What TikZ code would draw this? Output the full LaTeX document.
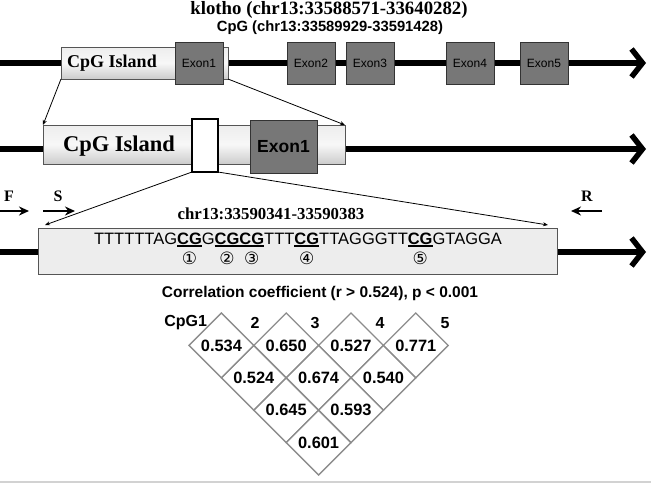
\documentclass[tikz,border=0pt]{standalone}
\usepackage{fontspec}
\setmainfont{Liberation Serif}
\setsansfont{Liberation Sans}
\newfontfamily\circfont{DejaVu Sans}
\usetikzlibrary{arrows.meta,shapes.geometric}
\definecolor{exongray}{HTML}{777777}
\definecolor{gridgray}{HTML}{8C8C8C}
\definecolor{boxline}{HTML}{555555}
\newcommand{\fsz}[1]{\fontsize{#1}{#1}\selectfont}
\newcommand{\cgm}[2]{\setbox0=\hbox{\textbf{#1}}%
  \rlap{\rule[-2.6pt]{\wd0}{1.3pt}}%
  \rlap{\raisebox{-20pt}[0pt][0pt]{\makebox[\wd0]{\circfont\fsz{17}#2}}}\box0}
\begin{document}
\begin{tikzpicture}[x=1pt,y=-1pt,
  every node/.style={inner sep=0pt,outer sep=0pt},
  backbone/.style={line width=5.5pt,-{Straight Barb[length=11pt,width=28pt,line width=5.5pt]}},
  zoomline/.style={line width=0.8pt,-{Stealth[length=5pt,width=4pt]}},
  primer/.style={line width=2.6pt,-{Stealth[length=10pt,width=9pt]}},
  cpgbox/.style={draw=boxline,line width=0.8pt,top color=gray!14,bottom color=gray!40,middle color=gray!6},
  exonbox/.style={draw=black!80,fill=exongray,line width=1pt},
  seqboxstyle/.style={draw=boxline,line width=1pt,fill=gray!14},
  winbox/.style={draw=black,line width=1.2pt,fill=white},
  cell/.style={diamond,draw=gridgray,line width=1.3pt,minimum width=64.8pt,minimum height=64.8pt,aspect=1,
     font=\sffamily\bfseries\fsz{16.4}},
  collbl/.style={font=\sffamily\bfseries\fsz{16}},
  primerlbl/.style={font=\rmfamily\bfseries\fsz{16}}
]
\useasboundingbox (0,0) rectangle (651,483);

% titles
\node[font=\rmfamily\bfseries\fsz{18.8}] (title) at (329,10) {klotho (chr13:33588571-33640282)};
\node[font=\sffamily\bfseries\fsz{14.8}] (subtitle) at (330,28) {CpG (chr13:33589929-33591428)};

% row 1
\coordinate (r1s) at (0,63);
\coordinate (r1e) at (646,63);
\draw[backbone] (r1s) -- (r1e);
\node[cpgbox,anchor=north west,minimum width=167pt,minimum height=32pt] (cpgA) at (61,47) {};
\node[font=\rmfamily\bfseries\fsz{18}] (cpgAtxt) at (112,63) {CpG Island};
\node[exonbox,anchor=north west,minimum width=48pt,minimum height=42pt] (ex1) at (175,42) {};
\node[exonbox,anchor=north west,minimum width=48pt,minimum height=42pt] (ex2) at (287,42) {};
\node[exonbox,anchor=north west,minimum width=48pt,minimum height=42pt] (ex3) at (346,42) {};
\node[exonbox,anchor=north west,minimum width=48pt,minimum height=42pt] (ex4) at (446,42) {};
\node[exonbox,anchor=north west,minimum width=48pt,minimum height=42pt] (ex5) at (520,42) {};
\foreach \e/\t in {ex1/Exon1,ex2/Exon2,ex3/Exon3,ex4/Exon4,ex5/Exon5}
  \node[font=\sffamily\fsz{12}] (\e txt) at (\e.center) {\t};

% row 2
\coordinate (r2s) at (0,149);
\coordinate (r2e) at (646,149);
\draw[backbone] (r2s) -- (r2e);
\node[cpgbox,anchor=north west,minimum width=302pt,minimum height=39pt] (cpgB) at (43,125) {};
\node[font=\rmfamily\bfseries\fsz{22.5}] (cpgBtxt) at (119,146) {CpG Island};
\node[winbox,anchor=north west,minimum width=26pt,minimum height=53pt] (win) at (192,119) {};
\node[exonbox,anchor=north west,minimum width=67pt,minimum height=53pt] (exB) at (250,120) {};
\node[font=\sffamily\bfseries\fsz{17.5}] (exBtxt) at (exB.center) {Exon1};

\draw[zoomline] (cpgA.south west) -- (cpgB.north west);
\draw[zoomline] (cpgA.south east) -- (cpgB.north east);

% row 3
\coordinate (r3s) at (0,252);
\coordinate (r3e) at (646,252);
\draw[backbone] (r3s) -- (r3e);
\node[seqboxstyle,anchor=north west,minimum width=519pt,minimum height=46pt] (seqbox) at (38,228) {};
\coordinate (tipL) at (45,225);
\coordinate (tipR) at (548,225);
\draw[zoomline] (win.south west) -- (tipL);
\draw[zoomline] (win.south east) -- (tipR);

\node[font=\rmfamily\bfseries\fsz{16.8}] (chrlbl) at (271,214) {chr13:33590341-33590383};
\node[font=\sffamily\fsz{16.5},anchor=base] (seq) at (298,244)
  {TTTTTTAG\cgm{CG}{①}G\cgm{CG}{②}\cgm{CG}{③}TTT\cgm{CG}{④}TTAGGGTT\cgm{CG}{⑤}GTAGGA};

% primers
\node[primerlbl] (F) at (9,196) {F};
\node[primerlbl] (S) at (58,196) {S};
\node[primerlbl] (R) at (587,196) {R};
\coordinate (Fa) at (0,211);   \coordinate (Fb) at (29,211);
\coordinate (Sa) at (43,211);  \coordinate (Sb) at (75,211);
\coordinate (Ra) at (602,211); \coordinate (Rb) at (571,211);
\draw[primer] (Fa) -- (Fb);
\draw[primer] (Sa) -- (Sb);
\draw[primer] (Ra) -- (Rb);

% correlation
\node[font=\sffamily\bfseries\fsz{15.5}] (corr) at (320,293) {Correlation coefficient (r > 0.524), p < 0.001};

\node[cell] (d11) at (221.4,345.4) {0.534};
\node[cell] (d12) at (286.2,345.4) {0.650};
\node[cell] (d13) at (351.0,345.4) {0.527};
\node[cell] (d14) at (415.8,345.4) {0.771};
\node[cell] (d21) at (253.8,377.8) {0.524};
\node[cell] (d22) at (318.6,377.8) {0.674};
\node[cell] (d23) at (383.4,377.8) {0.540};
\node[cell] (d31) at (286.2,410.2) {0.645};
\node[cell] (d32) at (351.0,410.2) {0.593};
\node[cell] (d41) at (318.6,442.6) {0.601};

\node[collbl,anchor=east] (c1) at (207,323) {CpG1};
\node[collbl] (c2) at (255,323) {2};
\node[collbl] (c3) at (315,323) {3};
\node[collbl] (c4) at (380,323) {4};
\node[collbl] (c5) at (445,323) {5};

% bottom rule
\coordinate (bl) at (0,481.5);
\coordinate (br) at (651,481.5);
\draw[gray!35,line width=2pt] (bl) -- (br);
\end{tikzpicture}
\end{document}
